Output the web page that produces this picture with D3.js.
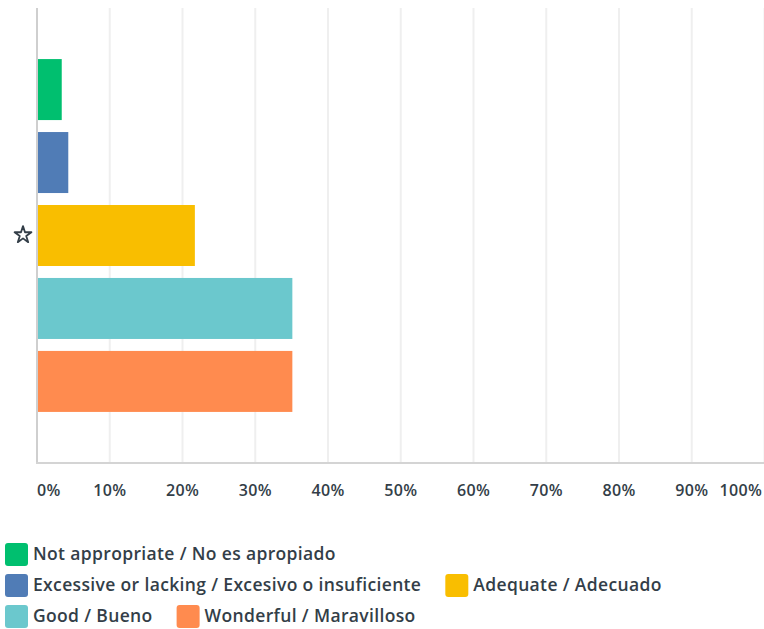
<!DOCTYPE html>
<html>
<head>
<meta charset="utf-8">
<script src="https://cdn.jsdelivr.net/npm/d3@7"></script>
<style>
  body { margin: 0; background: #fff; }
  svg { display: block; font-family: "Open Sans", "Noto Sans", sans-serif; }
</style>
</head>
<body>
<div id="chart"></div>
<script>
// answer choices, one bar each (percent of respondents)
const categories = [
  "Not appropriate / No es apropiado",
  "Excessive or lacking / Excesivo o insuficiente",
  "Adequate / Adecuado",
  "Good / Bueno",
  "Wonderful / Maravilloso"
];
const values = [3.4, 4.3, 21.7, 35.1, 35.1];
const colors = ["#00bf6f", "#507cb6", "#f9be00", "#6bc8cd", "#ff8b4f"];
const ticks = [0, 10, 20, 30, 40, 50, 60, 70, 80, 90, 100];

const W = 764, H = 629;
const plotLeft = 37, plotRight = 764.5, plotTop = 8, plotBottom = 463;
const textColor = "#333e48";

const svg = d3.select("#chart").append("svg")
  .attr("width", W)
  .attr("height", H);

const x = d3.scaleLinear().domain([0, 100]).range([plotLeft, plotRight]);
const y = d3.scaleBand()
  .domain(categories)
  .range([plotTop, plotBottom])
  .paddingInner(0.164)
  .paddingOuter(0.7);

// grid
svg.append("g")
  .selectAll("line")
  .data(ticks.slice(1))
  .enter().append("line")
  .attr("x1", d => x(d)).attr("x2", d => x(d))
  .attr("y1", plotTop).attr("y2", plotBottom)
  .attr("stroke", "#efefef")
  .attr("stroke-width", 2);

// bars
svg.selectAll(".bar")
  .data(categories)
  .enter().append("rect")
  .attr("class", "bar")
  .attr("x", x(0))
  .attr("y", d => y(d))
  .attr("width", (d, i) => x(values[i]) - x(0))
  .attr("height", y.bandwidth())
  .attr("fill", (d, i) => colors[i]);

// axes lines
svg.append("line")
  .attr("x1", plotLeft).attr("x2", plotLeft)
  .attr("y1", plotTop).attr("y2", plotBottom + 1)
  .attr("stroke", "#cfcfcf").attr("stroke-width", 2);
svg.append("line")
  .attr("x1", plotLeft - 1).attr("x2", W)
  .attr("y1", plotBottom).attr("y2", plotBottom)
  .attr("stroke", "#d4d4d4").attr("stroke-width", 2);

// tick labels, edge ones kept inside
svg.append("g")
  .selectAll("text")
  .data(ticks)
  .enter().append("text")
  .attr("x", d => d === 0 ? plotLeft : d === 100 ? 762 : x(d))
  .attr("y", 496)
  .attr("text-anchor", d => d === 0 ? "start" : d === 100 ? "end" : "middle")
  .style("font-size", "16px")
  .style("font-weight", 600)
  .style("letter-spacing", "0.3px")
  .style("fill", textColor)
  .text(d => d + "%");

// star marker for the single question row
svg.append("path")
  .attr("d", d3.symbol(d3.symbolStar, 88)())
  .attr("transform", "translate(23,235)")
  .attr("fill", "none")
  .attr("stroke", textColor)
  .attr("stroke-width", 1.8)
  .attr("stroke-linejoin", "round");

// legend, flowing left to right
const legend = svg.append("g");
let lx = 5, ly = 543;
const rowH = 31, gap = 24, maxW = W - 5;
categories.forEach((c, i) => {
  const g = legend.append("g");
  const t = g.append("text")
    .attr("x", 28)
    .attr("y", 17)
    .style("font-size", "17.5px")
    .style("font-weight", 600)
    .style("letter-spacing", "0.35px")
    .style("fill", textColor)
    .text(c);
  const w = 28 + t.node().getComputedTextLength();
  if (lx > 5 && lx + w > maxW) { lx = 5; ly += rowH; }
  g.attr("transform", `translate(${lx},${ly})`);
  g.insert("rect", "text")
    .attr("width", 23).attr("height", 23)
    .attr("rx", 3)
    .attr("fill", colors[i]);
  lx += w + gap;
  if (i === 0) { lx = 5; ly += rowH; }
});
</script>
</body>
</html>
